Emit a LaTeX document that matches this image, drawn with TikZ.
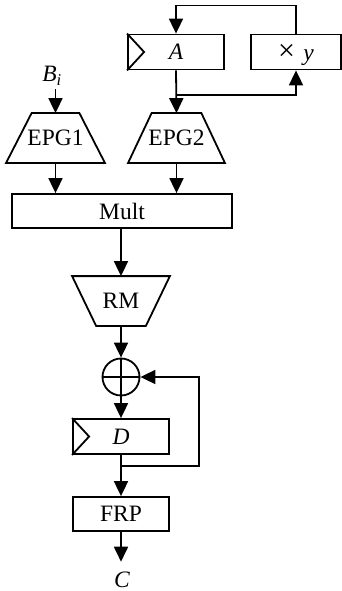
\documentclass[tikz,border=0pt]{standalone}
\usepackage{fontspec}
\setmainfont{Liberation Serif}
\usetikzlibrary{arrows.meta,calc}
\begin{document}
\begin{tikzpicture}[x=1pt,y=-1pt,
  line width=1.8pt, line join=miter,
  every node/.style={font=\fontsize{23.5}{28}\selectfont, inner sep=0pt},
  box/.style={draw, rectangle, minimum width=96pt, minimum height=35pt},
  trapbox/.style={rectangle, minimum width=#1, minimum height=48pt},
  arr/.style={-{Triangle[length=15pt,width=14pt]}}]
\useasboundingbox (0,0) rectangle (342,591);

% top registers
\node[box] (A) at (176,52) {\textit{A}};
\draw (A.north west) -- ($(A.west)+(17,0)$) -- (A.south west);
\node[box, minimum width=90pt, text depth=0pt] (xy) at (296,52) {{\fontsize{30}{30}\selectfont ×}\hspace{0.35em}\textit{y}};

% input label
\node[inner ysep=3pt] (Bi) at (52,76) {\textit{B}\textsubscript{\textit{i}}};

% EPG trapezoids
\node[trapbox=97pt] (epg1) at (55.5,138) {EPG1};
\draw ($(epg1.north west)+(25.5,0)$) -- ($(epg1.north east)+(-25.5,0)$) -- (epg1.south east) -- (epg1.south west) -- cycle;
\node[trapbox=95pt] (epg2) at (176.5,138) {EPG2};
\draw ($(epg2.north west)+(23.5,0)$) -- ($(epg2.north east)+(-23.5,0)$) -- (epg2.south east) -- (epg2.south west) -- cycle;

% multiplier
\node[box, minimum width=220pt, minimum height=34pt] (mult) at (122,211) {Mult};

% RM inverted trapezoid
\node[trapbox=96pt] (rm) at (121,301) {RM};
\draw (rm.north west) -- (rm.north east) -- ($(rm.south east)+(-24,0)$) -- ($(rm.south west)+(24,0)$) -- cycle;

% adder
\node[draw, circle, minimum size=37pt] (sum) at (121,377) {};
\draw (sum.north) -- (sum.south);
\draw (sum.west) -- (sum.east);

% accumulator D
\node[box] (D) at (121,436.5) {\textit{D}};
\draw (D.north west) -- ($(D.west)+(17,0)$) -- (D.south west);

% FRP
\node[box, minimum height=34pt] (frp) at (121,514) {FRP};

% output
\node (C) at (122,579.5) {\textit{C}};

% connectors
\draw[arr] (xy.north) -- ++(0,-28) -| (A.north);
\draw[arr] (A.south) -- (epg2.north);
\coordinate (br1) at (176,95);
\draw[arr] (br1) -| (xy.south);
\draw[arr] (Bi.south -| epg1.north) -- (epg1.north);
\draw[arr] (epg1.south) -- (epg1.south |- mult.north);
\draw[arr] (epg2.south) -- (epg2.south |- mult.north);
\draw[arr] (mult.south -| rm.north) -- (rm.north);
\draw[arr] (rm.south) -- (sum.north);
\draw[arr] (sum.south) -- (D.north);
\draw[arr] (D.south) -- (frp.north);
\coordinate (br2) at (121,466);
\draw[arr] (br2) -- ++(78,0) |- (sum.east);
\draw[arr, shorten >=9pt] (frp.south) -- (frp.south |- C.north);
\end{tikzpicture}
\end{document}
